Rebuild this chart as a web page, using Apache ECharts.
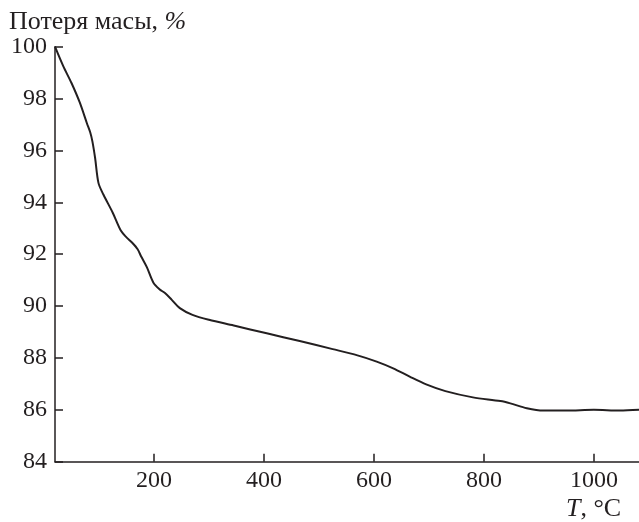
<!DOCTYPE html>
<html>
<head>
<meta charset="utf-8">
<script src="https://cdn.jsdelivr.net/npm/echarts@6/dist/echarts.min.js"></script>
<style>
html,body{margin:0;padding:0;background:#fff;}
#chart{width:639px;height:522px;}
</style>
</head>
<body>
<div id="chart"></div>
<script>
// Temperature, °C
var temperature = [20, 35, 50, 65, 78, 84, 88, 93, 99, 108, 125, 140, 150, 160, 170, 177, 187, 199, 210, 220, 232, 247, 270, 300, 345, 405, 465, 525, 570, 605, 635, 665, 695, 730, 780, 830, 848, 878, 908, 950, 1000, 1047, 1082];
// Mass, %
var massPercent = [100, 99.25, 98.6, 97.85, 97.05, 96.7, 96.35, 95.7, 94.75, 94.3, 93.6, 92.9, 92.65, 92.45, 92.2, 91.9, 91.5, 90.9, 90.65, 90.5, 90.25, 89.92, 89.66, 89.47, 89.25, 88.95, 88.65, 88.34, 88.1, 87.86, 87.6, 87.28, 86.98, 86.72, 86.48, 86.34, 86.25, 86.06, 85.97, 85.97, 86.0, 85.97, 86.0];
var xTicks = [200, 400, 600, 800, 1000];
var yTicks = [84, 86, 88, 90, 92, 94, 96, 98, 100];

var ink = '#231f20';
var fontFam = '"Liberation Serif", "DejaVu Serif", serif';

var points = temperature.map(function (t, i) { return [t, massPercent[i]]; });

var chart = echarts.init(document.getElementById('chart'), null, {renderer: 'canvas'});
chart.setOption({
  animation: false,
  backgroundColor: '#fff',
  grid: {left: 55, top: 46.7, right: 0, bottom: 60.3, containLabel: false, outerBoundsMode: 'none'},
  xAxis: {
    type: 'value', min: 20, max: 1082,
    axisLine: {show: true, lineStyle: {color: ink, width: 1.5}},
    axisTick: {show: true, inside: true, length: 8, lineStyle: {color: ink, width: 1.5}, customValues: xTicks},
    axisLabel: {color: ink, fontFamily: fontFam, fontSize: 24, margin: 7, customValues: xTicks,
      formatter: function (v) { return String(v); }},
    splitLine: {show: false}
  },
  yAxis: {
    type: 'value', min: 84, max: 100, interval: 2,
    axisLine: {show: true, lineStyle: {color: ink, width: 1.5}},
    axisTick: {show: true, inside: true, length: 8, lineStyle: {color: ink, width: 1.5}, customValues: yTicks},
    axisLabel: {color: ink, fontFamily: fontFam, fontSize: 24, margin: 8, customValues: yTicks,
      formatter: function (v) { return String(v); }},
    splitLine: {show: false}
  },
  series: [{
    type: 'line', data: points, showSymbol: false, smooth: 0.3,
    lineStyle: {color: ink, width: 2}
  }],
  graphic: [
    {
      type: 'text', left: 9, top: 9,
      style: {
        text: '{n|Потеря масы, }{i|%}',
        rich: {
          n: {fontFamily: fontFam, fontSize: 26, fill: ink},
          i: {fontFamily: fontFam, fontSize: 26, fontStyle: 'italic', fill: ink}
        }
      }
    },
    {
      type: 'text', left: 566, top: 496,
      style: {
        text: '{i|T}{n|, °C}',
        rich: {
          n: {fontFamily: fontFam, fontSize: 26, fill: ink},
          i: {fontFamily: fontFam, fontSize: 26, fontStyle: 'italic', fill: ink}
        }
      }
    }
  ]
});
</script>
</body>
</html>
